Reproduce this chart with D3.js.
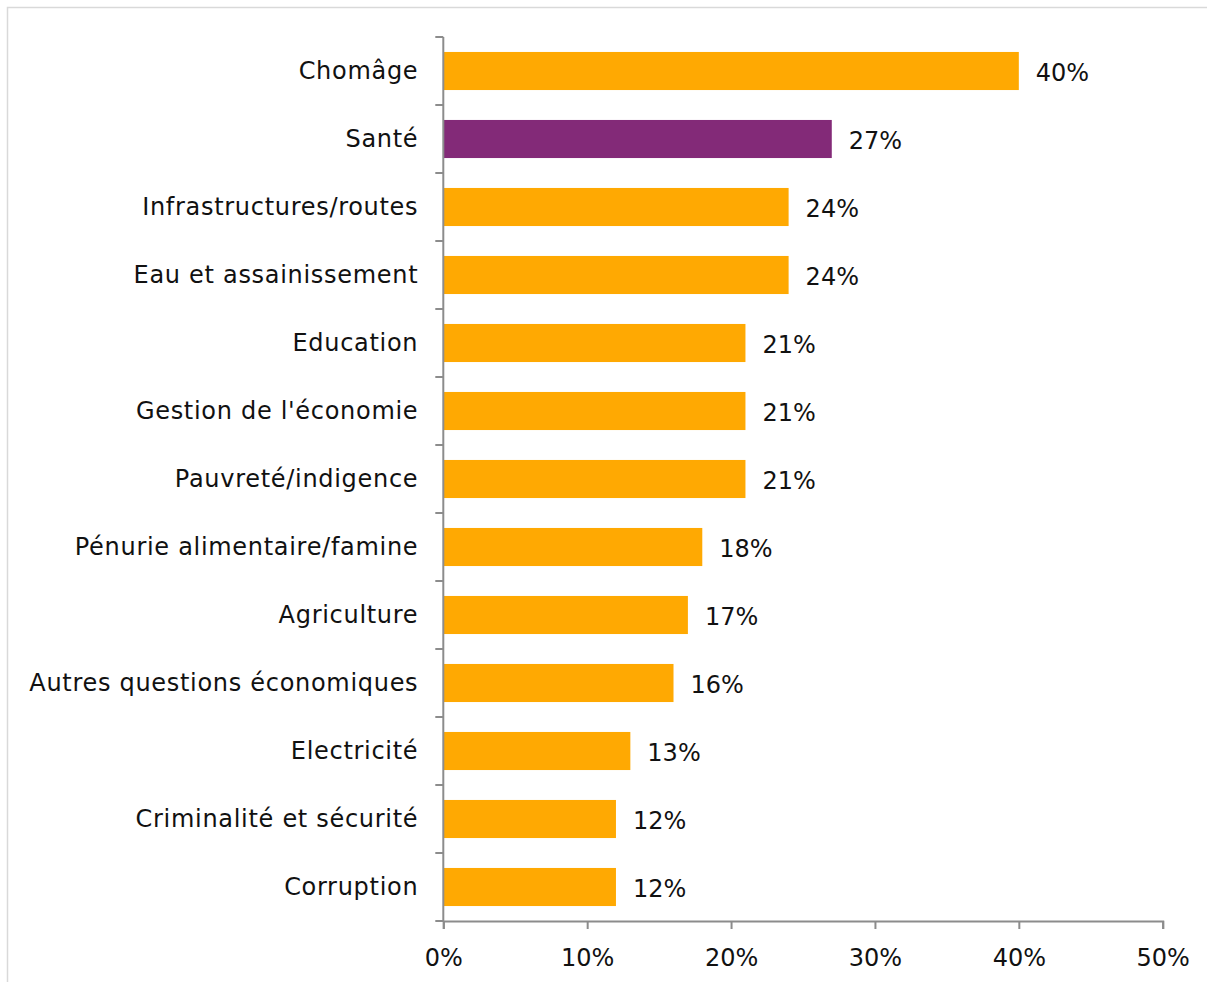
<!DOCTYPE html>
<html>
<head>
<meta charset="utf-8">
<script src="https://cdn.jsdelivr.net/npm/d3@7"></script>
<style>
  html, body { margin: 0; padding: 0; background: #fff; }
  svg { display: block; }
  text { font-family: "DejaVu Sans", "Noto Sans", sans-serif; fill: #111; }
</style>
</head>
<body>
<svg id="chart" width="1207" height="982"></svg>
<script>
// Main concerns, share of respondents (%)
const categories = [
  "Chomâge", "Santé", "Infrastructures/routes", "Eau et assainissement",
  "Education", "Gestion de l'économie", "Pauvreté/indigence",
  "Pénurie alimentaire/famine", "Agriculture", "Autres questions économiques",
  "Electricité", "Criminalité et sécurité", "Corruption"
];
const values = [40, 27, 24, 24, 21, 21, 21, 18, 17, 16, 13, 12, 12];
const highlighted = ["Santé"];
const xTicks = [0, 10, 20, 30, 40, 50];

const svg = d3.select("#chart");
const axisColor = "#8c8c8c";
const fontFamily = "\"DejaVu Sans\", \"Noto Sans\", sans-serif";
const fontSize = 24;

// outer frame
svg.append("rect")
  .attr("x", 7.5).attr("y", 7.5)
  .attr("width", 1220).attr("height", 1000)
  .attr("fill", "none").attr("stroke", "#d9d9d9").attr("stroke-width", 1.5);

const plotLeft = 443.3, plotRight = 1162.7, plotTop = 37, plotBottom = 921;

const x = d3.scaleLinear().domain([0, 50]).range([plotLeft, plotRight]);
const y = d3.scaleBand().domain(categories).range([plotTop, plotBottom]).paddingInner(0.44).paddingOuter(0.22);

// bars
svg.append("g").selectAll("rect")
  .data(categories)
  .join("rect")
  .attr("x", x(0))
  .attr("y", d => y(d))
  .attr("width", (d, i) => x(values[i]) - x(0))
  .attr("height", y.bandwidth())
  .attr("fill", d => highlighted.includes(d) ? "#832A78" : "#FFA902");

// value labels
svg.append("g").selectAll("text")
  .data(categories)
  .join("text")
  .attr("x", (d, i) => x(values[i]) + 17)
  .attr("y", d => y(d) + y.bandwidth() / 2 + 2)
  .attr("dy", "0.35em")
  .attr("font-size", fontSize)
  .text((d, i) => values[i] + "%");

// category axis: line with ticks at band boundaries
const step = (plotBottom - plotTop) / categories.length;
const yAxis = svg.append("g");
yAxis.append("line")
  .attr("x1", plotLeft).attr("x2", plotLeft).attr("y1", plotTop).attr("y2", plotBottom)
  .attr("stroke", axisColor).attr("stroke-width", 2);
yAxis.selectAll("line.tick")
  .data(d3.range(categories.length + 1))
  .join("line")
  .attr("class", "tick")
  .attr("x1", plotLeft - 8).attr("x2", plotLeft)
  .attr("y1", i => plotTop + i * step).attr("y2", i => plotTop + i * step)
  .attr("stroke", axisColor).attr("stroke-width", 2);
yAxis.selectAll("text")
  .data(categories)
  .join("text")
  .attr("x", plotLeft - 25)
  .attr("y", d => y(d) + y.bandwidth() / 2)
  .attr("dy", "0.35em")
  .attr("text-anchor", "end")
  .attr("font-size", fontSize)
  .attr("letter-spacing", 0.7)
  .text(d => d);

// value axis
const xAxis = svg.append("g")
  .attr("transform", `translate(0,${plotBottom})`)
  .call(d3.axisBottom(x).tickValues(xTicks).tickSize(8).tickPadding(20).tickFormat(d => d + "%"));
xAxis.select(".domain").attr("stroke", axisColor).attr("stroke-width", 2);
xAxis.selectAll(".tick line").attr("stroke", axisColor).attr("stroke-width", 2);
xAxis.selectAll(".tick text")
  .attr("font-size", fontSize)
  .attr("font-family", fontFamily)
  .attr("fill", "#111");
</script>
</body>
</html>
